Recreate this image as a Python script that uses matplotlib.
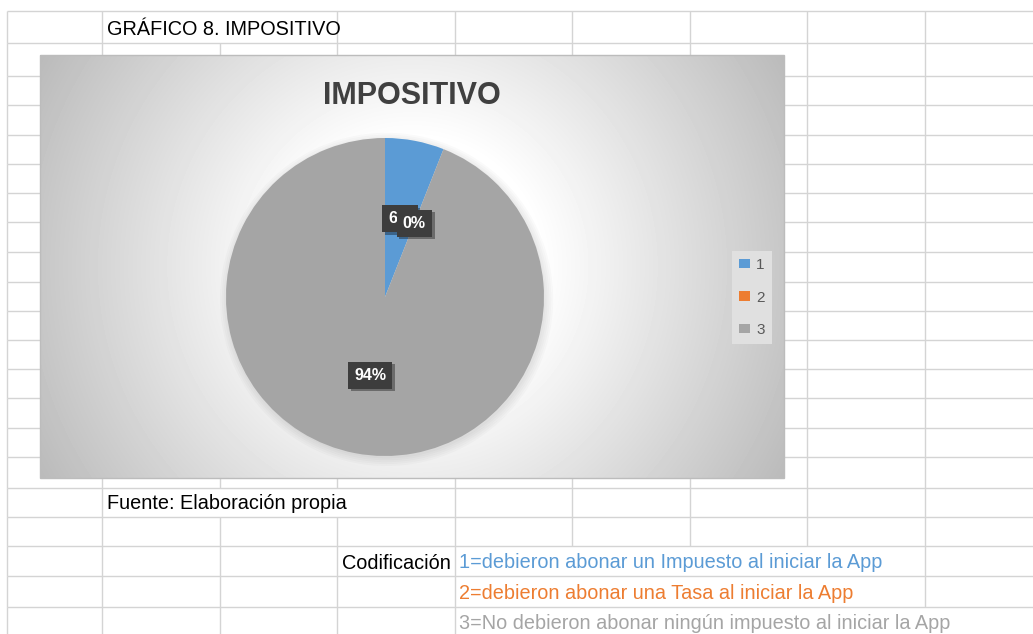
import matplotlib.pyplot as plt
import matplotlib.patheffects as pe
from matplotlib.patches import Patch, Rectangle, Circle
import numpy as np

plt.rcParams["font.family"] = ["Liberation Sans", "DejaVu Sans"]

# data
categories = ["1", "2", "3"]
shares = [6, 0, 94]
slice_colors = ["#5b9bd5", "#ed7d31", "#a5a5a5"]

sheet_title = "GRÁFICO 8. IMPOSITIVO"
chart_title = "IMPOSITIVO"
source_note = "Fuente: Elaboración propia"
coding_label = "Codificación"
coding_lines = [
    "1=debieron abonar un Impuesto al iniciar la App",
    "2=debieron abonar una Tasa al iniciar la App",
    "3=No debieron abonar ningún impuesto al iniciar la App",
]

# spreadsheet layout (pixels)
W, H = 1033, 634
col_x = [7, 102, 220, 337, 455, 572, 690, 807, 925]
row_y = [11, 43, 76, 105, 135, 164, 193, 222, 252, 282, 311, 340, 369,
         398, 428, 457, 488, 517, 546, 576, 607, 634]
# cell borders hidden by overflowing text, per row index
hidden = {0: [220], 16: [220, 337], 18: [572, 690, 807],
          19: [572, 690, 807], 20: [572, 690, 807, 925]}

fig = plt.figure(figsize=(W / 100, H / 100), dpi=100)
sheet = fig.add_axes([0, 0, 1, 1])
sheet.set_xlim(0, W)
sheet.set_ylim(H, 0)
sheet.axis("off")

grid_kw = dict(color="#d4d4d4", lw=1.0, zorder=1, solid_capstyle="butt")
for y in row_y[:-1]:
    sheet.plot([col_x[0], W], [y, y], **grid_kw)
for i in range(len(row_y) - 1):
    for x in col_x:
        if x in hidden.get(i, []):
            continue
        sheet.plot([x, x], [row_y[i], row_y[i + 1]], **grid_kw)

# cell texts
cell_fs = 14.3
sheet.text(107, 35, sheet_title, fontsize=cell_fs, color="black")
sheet.text(107, 509, source_note, fontsize=cell_fs, color="black")
sheet.text(451, 569, coding_label, fontsize=cell_fs, color="black", ha="right")
for line, base, col in zip(coding_lines, [568, 599, 629], slice_colors):
    sheet.text(459, base, line, fontsize=cell_fs, color=col)

# chart area with radial gradient
cx0, cy0, cx1, cy1 = 40, 55, 784, 478
yy, xx = np.mgrid[cy0:cy1, cx0:cx1]
gx, gy = 412, 266
dist = np.hypot(xx - gx, yy - gy)
dist = dist / dist.max()
v = np.clip((dist - 0.3) / 0.7, 0, 1)
shade = 1 - v * 0.27
sheet.imshow(shade, cmap="gray", vmin=0, vmax=1, aspect="auto",
             extent=(cx0, cx1, cy1, cy0), zorder=2, interpolation="bilinear")
sheet.add_patch(Rectangle((cx0, cy0), cx1 - cx0, cy1 - cy0, fill=False,
                          ec="#bcbcbc", lw=1.0, zorder=3))

sheet.text(412, 104, chart_title, fontsize=22, fontweight="bold",
           color="#404040", ha="center", va="baseline", zorder=4)

# pie
R = 159
pcx, pcy = 385, 297
half = 185
pie_ax = fig.add_axes([(pcx - half) / W, 1 - (pcy + half) / H,
                       2 * half / W, 2 * half / H])
pie_ax.axis("off")

for k in range(5):
    pie_ax.add_patch(Circle((0.01, -0.015), 1.0 + 0.012 * k,
                            fc="black", ec="none", alpha=0.018, zorder=0))

wedges, texts, autotexts = pie_ax.pie(
    shares,
    colors=slice_colors,
    startangle=90,
    counterclock=False,
    autopct=lambda p: f"{p:.0f}%",
    pctdistance=0.5,
    wedgeprops=dict(linewidth=0),
    textprops=dict(color="white", fontsize=11.5, fontweight="bold"),
)
for t in autotexts:
    t.set_bbox(dict(boxstyle="square,pad=0.38", fc="#3d3d3d", ec="none"))
    t.get_bbox_patch().set_path_effects(
        [pe.withSimplePatchShadow(offset=(2, -2), shadow_rgbFace="black", alpha=0.35)]
    )
lim = half / R
pie_ax.set_xlim(-lim, lim)
pie_ax.set_ylim(-lim, lim)

# legend
handles = [Patch(facecolor=c) for c in slice_colors]
fig.legend(handles, categories, loc="center",
           bbox_to_anchor=(752 / W, 1 - 297.5 / H),
           frameon=True, fancybox=False, fontsize=11, labelspacing=1.2,
           handlelength=0.7, handleheight=0.55, handletextpad=0.4,
           borderpad=0.5, facecolor="#e0e0e0", edgecolor="none",
           framealpha=1, labelcolor="#595959")

fig.savefig("out.png", dpi=100)
